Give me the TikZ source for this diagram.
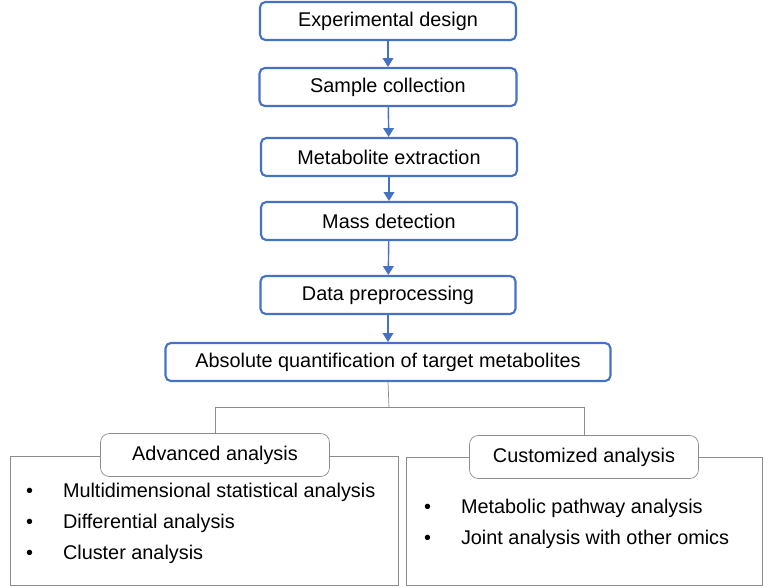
\documentclass[tikz,border=0pt]{standalone}
\usepackage{fontspec}
\setmainfont{Liberation Sans}
\usetikzlibrary{arrows.meta,positioning}

\definecolor{stepblue}{HTML}{4472C4}
\definecolor{framegray}{HTML}{8C8C8C}

\tikzset{
  stage/.style={draw=stepblue, line width=1.2pt, rounded corners=3pt, fill=white,
    minimum height=0.76cm, font=\fontsize{11.3pt}{13pt}\selectfont},
  flow/.style={-{Triangle[length=5pt,width=6pt]}, draw=stepblue, line width=0.8pt},
  tab/.style={draw=framegray, rounded corners=5pt, fill=white, minimum height=0.86cm,
    minimum width=4.58cm, font=\fontsize{11.3pt}{13pt}\selectfont},
  panel/.style={draw=framegray, line width=0.5pt},
  item/.style={anchor=west, font=\fontsize{11.3pt}{13pt}\selectfont}
}

\begin{document}
\begin{tikzpicture}[x=0.02cm,y=-0.02cm]
  \useasboundingbox (0,0) rectangle (772,586);

  \node[stage, minimum width=5.12cm] (design) at (388,21) {Experimental design};
  \node[stage, minimum width=5.14cm] (sample) at (388,87) {Sample collection};
  \node[stage, minimum width=5.12cm] (extract) at (389,157) {Metabolite extraction};
  \node[stage, minimum width=5.12cm] (mass) at (389,221) {Mass detection};
  \node[stage, minimum width=5.1cm] (prep) at (388,295) {Data preprocessing};
  \node[stage, minimum width=8.9cm] (quant) at (388,362) {Absolute quantification of target metabolites};

  \draw[flow] (design) -- (sample);
  \draw[flow] (sample) -- (extract);
  \draw[flow] (extract) -- (mass);
  \draw[flow] (mass) -- (prep);
  \draw[flow] (prep) -- (quant);

  % lower panels
  \draw[panel] (10,456) rectangle (398,585);
  \draw[panel] (406,457) rectangle (762,585);

  \coordinate (split) at (389,407);
  \node[tab] (advanced) at (215,455) {Advanced analysis};
  \node[tab] (custom) at (584,457) {Customized analysis};

  \draw[framegray] (quant.south) -- (split);
  \draw[framegray] (split) -| (advanced.north);
  \draw[framegray] (split) -| (custom.north);

  \node[item] (a1) at (20,492) {\textbullet\hspace{17pt}Multidimensional statistical analysis};
  \node[item] (a2) at (20,523) {\textbullet\hspace{17pt}Differential analysis};
  \node[item] (a3) at (20,554) {\textbullet\hspace{17pt}Cluster analysis};
  \node[item] (c1) at (418,508) {\textbullet\hspace{17pt}Metabolic pathway analysis};
  \node[item] (c2) at (418,539) {\textbullet\hspace{17pt}Joint analysis with other omics};
\end{tikzpicture}
\end{document}
